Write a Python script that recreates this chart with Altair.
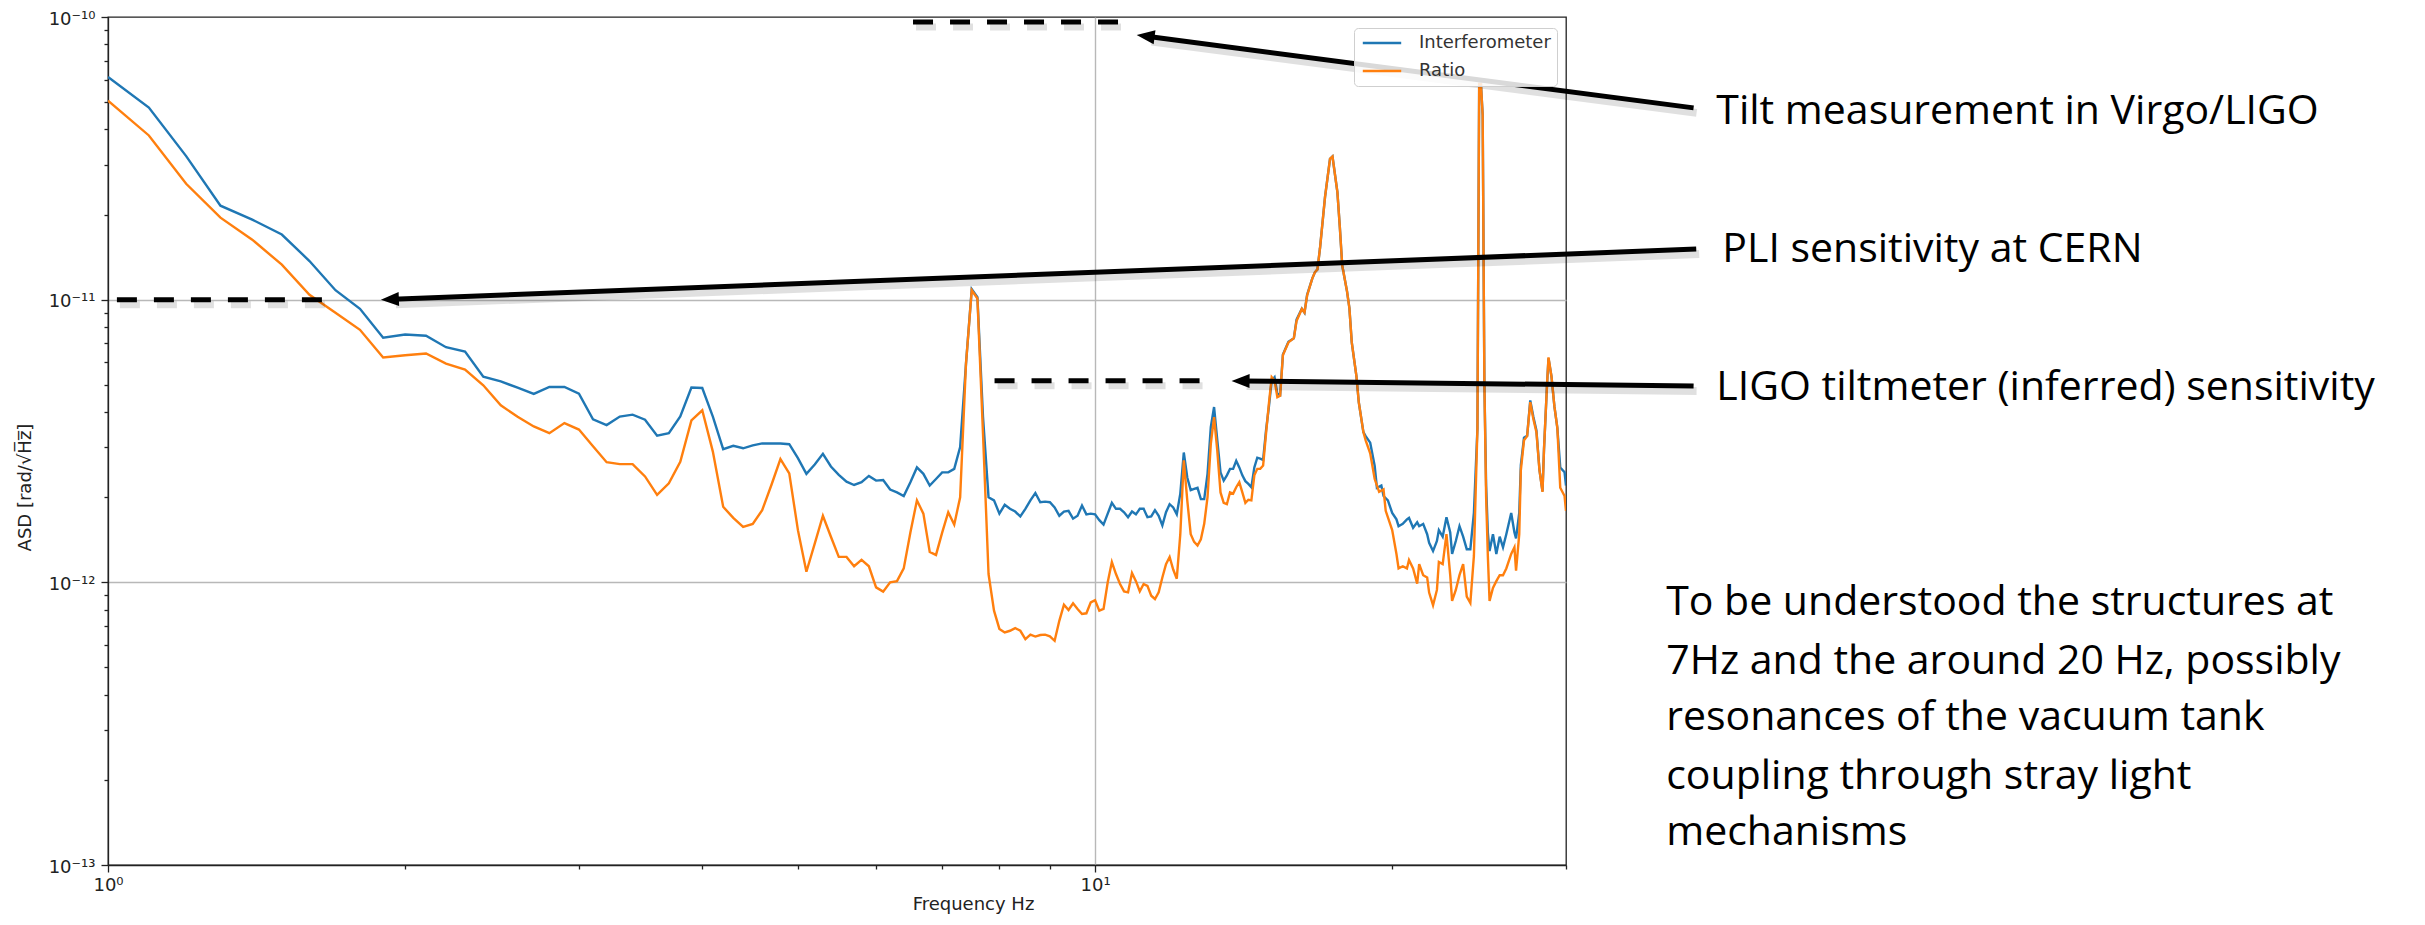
import math
import altair as alt
import pandas as pd

# ---------------- data ----------------
# Interferometer ASD (rad/sqrt(Hz)) vs frequency (Hz)
ifo_points = [
    (1.0, 6.14e-11), (1.1, 4.78e-11), (1.2, 3.22e-11), (1.3, 2.15e-11), (1.4, 1.92e-11),
    (1.5, 1.70e-11), (1.6, 1.37e-11), (1.7, 1.08e-11), (1.8, 9.28e-12), (1.9, 7.33e-12),
    (2.0, 7.53e-12), (2.1, 7.45e-12), (2.2, 6.79e-12), (2.3, 6.55e-12), (2.4, 5.34e-12),
    (2.5, 5.14e-12), (2.6, 4.88e-12), (2.7, 4.64e-12), (2.8, 4.91e-12), (2.9, 4.91e-12),
    (3.0, 4.65e-12), (3.1, 3.77e-12), (3.2, 3.60e-12), (3.3, 3.86e-12), (3.4, 3.92e-12),
    (3.5, 3.76e-12), (3.6, 3.30e-12), (3.7, 3.37e-12), (3.8, 3.86e-12), (3.9, 4.89e-12),
    (4.0, 4.87e-12), (4.1, 3.86e-12), (4.2, 2.96e-12), (4.3, 3.04e-12), (4.4, 2.98e-12),
    (4.5, 3.05e-12), (4.6, 3.10e-12), (4.7, 3.10e-12), (4.8, 3.10e-12), (4.9, 3.08e-12),
    (5.0, 2.75e-12), (5.1, 2.42e-12), (5.2, 2.61e-12), (5.3, 2.85e-12), (5.4, 2.57e-12),
    (5.5, 2.40e-12), (5.6, 2.27e-12), (5.7, 2.21e-12), (5.8, 2.26e-12), (5.9, 2.38e-12),
    (6.0, 2.29e-12), (6.1, 2.30e-12), (6.2, 2.13e-12), (6.3, 2.08e-12), (6.4, 2.02e-12),
    (6.5, 2.26e-12), (6.6, 2.55e-12), (6.7, 2.42e-12), (6.8, 2.20e-12), (6.9, 2.32e-12),
    (7.0, 2.45e-12), (7.1, 2.45e-12), (7.2, 2.52e-12), (7.3, 3.01e-12), (7.4, 5.93e-12),
    (7.5, 1.09e-11), (7.6, 1.02e-11), (7.7, 3.84e-12), (7.8, 2.00e-12), (7.9, 1.95e-12),
    (8.0, 1.75e-12), (8.1, 1.88e-12), (8.2, 1.82e-12), (8.3, 1.78e-12), (8.4, 1.71e-12),
    (8.5, 1.82e-12), (8.6, 1.95e-12), (8.7, 2.07e-12), (8.8, 1.92e-12), (8.9, 1.93e-12),
    (9.0, 1.92e-12), (9.1, 1.84e-12), (9.2, 1.72e-12), (9.3, 1.78e-12), (9.4, 1.79e-12),
    (9.5, 1.68e-12), (9.6, 1.72e-12), (9.7, 1.87e-12), (9.8, 1.74e-12), (9.9, 1.75e-12),
    (10.0, 1.74e-12), (10.1, 1.66e-12), (10.2, 1.60e-12), (10.3, 1.75e-12), (10.4, 1.91e-12),
    (10.5, 1.82e-12), (10.6, 1.82e-12), (10.7, 1.77e-12), (10.8, 1.70e-12), (10.9, 1.78e-12),
    (11.0, 1.74e-12), (11.1, 1.82e-12), (11.2, 1.82e-12), (11.3, 1.70e-12), (11.4, 1.71e-12),
    (11.5, 1.80e-12), (11.6, 1.72e-12), (11.7, 1.59e-12), (11.8, 1.77e-12), (11.9, 1.89e-12),
    (12.0, 1.84e-12), (12.1, 1.74e-12), (12.2, 2.06e-12), (12.3, 2.88e-12), (12.4, 2.35e-12),
    (12.5, 2.12e-12), (12.6, 2.14e-12), (12.7, 2.16e-12), (12.8, 1.97e-12), (12.9, 1.97e-12),
    (13.0, 2.42e-12), (13.1, 3.54e-12), (13.2, 4.17e-12), (13.3, 3.18e-12), (13.4, 2.45e-12),
    (13.5, 2.29e-12), (13.6, 2.39e-12), (13.7, 2.52e-12), (13.8, 2.52e-12), (13.9, 2.69e-12),
    (14.0, 2.55e-12), (14.1, 2.39e-12), (14.2, 2.28e-12), (14.3, 2.23e-12), (14.4, 2.17e-12),
    (14.5, 2.55e-12), (14.6, 2.76e-12), (14.7, 2.74e-12), (14.8, 2.71e-12), (14.9, 3.44e-12),
    (15.0, 4.17e-12), (15.1, 5.18e-12), (15.2, 5.32e-12), (15.3, 4.65e-12), (15.4, 4.60e-12),
    (15.5, 6.40e-12), (15.7, 7.10e-12), (15.9, 7.30e-12), (16.0, 8.50e-12), (16.2, 9.30e-12),
    (16.3, 9.00e-12), (16.4, 1.04e-11), (16.6, 1.19e-11), (16.7, 1.25e-11), (16.8, 1.28e-11),
    (16.9, 1.52e-11), (17.1, 2.31e-11), (17.3, 3.15e-11), (17.4, 3.21e-11), (17.6, 2.40e-11),
    (17.7, 1.81e-11), (17.8, 1.32e-11), (18.0, 1.07e-11), (18.1, 9.33e-12), (18.2, 7.06e-12),
    (18.4, 5.35e-12), (18.5, 4.34e-12), (18.7, 3.40e-12), (18.8, 3.29e-12), (19.0, 3.12e-12),
    (19.2, 2.58e-12), (19.3, 2.16e-12), (19.5, 2.20e-12), (19.6, 2.02e-12), (19.8, 1.95e-12),
    (20.0, 1.76e-12), (20.2, 1.67e-12), (20.3, 1.58e-12), (20.5, 1.61e-12), (20.7, 1.67e-12),
    (20.8, 1.69e-12), (21.0, 1.56e-12), (21.2, 1.63e-12), (21.3, 1.58e-12), (21.5, 1.61e-12),
    (21.7, 1.48e-12), (21.8, 1.38e-12), (22.0, 1.29e-12), (22.2, 1.40e-12), (22.3, 1.53e-12),
    (22.5, 1.45e-12), (22.7, 1.70e-12), (22.9, 1.50e-12), (23.0, 1.26e-12), (23.2, 1.40e-12),
    (23.4, 1.58e-12), (23.6, 1.45e-12), (23.8, 1.31e-12), (24.0, 1.31e-12), (24.2, 1.76e-12),
    (24.4, 3.50e-12), (24.5, 5.80e-11), (24.6, 5.80e-11), (24.7, 4.50e-11), (24.8, 5.00e-12),
    (24.9, 2.20e-12), (25.0, 1.50e-12), (25.1, 1.29e-12), (25.3, 1.48e-12), (25.5, 1.26e-12),
    (25.7, 1.45e-12), (25.9, 1.33e-12), (26.1, 1.48e-12), (26.4, 1.76e-12), (26.6, 1.50e-12),
    (26.7, 1.43e-12), (26.9, 1.76e-12), (27.0, 2.60e-12), (27.2, 3.25e-12), (27.4, 3.30e-12),
    (27.6, 4.40e-12), (27.8, 3.85e-12), (28.0, 3.45e-12), (28.2, 2.50e-12), (28.4, 2.10e-12),
    (28.5, 2.96e-12), (28.7, 4.99e-12), (28.8, 6.20e-12), (29.0, 5.35e-12), (29.2, 4.19e-12),
    (29.4, 3.52e-12), (29.6, 2.55e-12), (29.9, 2.45e-12), (30.0, 2.20e-12),
]

# Ratio ASD (rad/sqrt(Hz)) vs frequency (Hz)
ratio_points = [
    (1.0, 5.06e-11), (1.1, 3.81e-11), (1.2, 2.57e-11), (1.3, 1.95e-11), (1.4, 1.63e-11),
    (1.5, 1.33e-11), (1.6, 1.04e-11), (1.7, 8.99e-12), (1.8, 7.82e-12), (1.9, 6.24e-12),
    (2.0, 6.36e-12), (2.1, 6.45e-12), (2.2, 5.94e-12), (2.3, 5.66e-12), (2.4, 4.98e-12),
    (2.5, 4.23e-12), (2.6, 3.85e-12), (2.7, 3.56e-12), (2.8, 3.37e-12), (2.9, 3.66e-12),
    (3.0, 3.47e-12), (3.1, 3.03e-12), (3.2, 2.66e-12), (3.3, 2.62e-12), (3.4, 2.62e-12),
    (3.5, 2.37e-12), (3.6, 2.04e-12), (3.7, 2.24e-12), (3.8, 2.67e-12), (3.9, 3.74e-12),
    (4.0, 4.06e-12), (4.1, 2.90e-12), (4.2, 1.85e-12), (4.3, 1.69e-12), (4.4, 1.57e-12),
    (4.5, 1.61e-12), (4.6, 1.80e-12), (4.7, 2.21e-12), (4.8, 2.73e-12), (4.9, 2.43e-12),
    (5.0, 1.53e-12), (5.1, 1.09e-12), (5.2, 1.37e-12), (5.3, 1.72e-12), (5.4, 1.45e-12),
    (5.5, 1.23e-12), (5.6, 1.23e-12), (5.7, 1.14e-12), (5.8, 1.20e-12), (5.9, 1.14e-12),
    (6.0, 9.60e-13), (6.1, 9.27e-13), (6.2, 1.00e-12), (6.3, 1.01e-12), (6.4, 1.12e-12),
    (6.5, 1.50e-12), (6.6, 1.95e-12), (6.7, 1.75e-12), (6.8, 1.28e-12), (6.9, 1.25e-12),
    (7.0, 1.50e-12), (7.1, 1.77e-12), (7.2, 1.60e-12), (7.3, 2.00e-12), (7.4, 5.93e-12),
    (7.5, 1.08e-11), (7.6, 1.01e-11), (7.7, 3.35e-12), (7.8, 1.07e-12), (7.9, 7.94e-13),
    (8.0, 6.84e-13), (8.1, 6.65e-13), (8.2, 6.74e-13), (8.3, 6.89e-13), (8.4, 6.74e-13),
    (8.5, 6.30e-13), (8.6, 6.53e-13), (8.7, 6.43e-13), (8.8, 6.51e-13), (8.9, 6.53e-13),
    (9.0, 6.44e-13), (9.1, 6.21e-13), (9.2, 7.31e-13), (9.3, 8.34e-13), (9.4, 7.98e-13),
    (9.5, 8.43e-13), (9.6, 8.05e-13), (9.7, 7.73e-13), (9.8, 7.77e-13), (9.9, 8.49e-13),
    (10.0, 8.65e-13), (10.1, 7.94e-13), (10.2, 8.05e-13), (10.3, 1.00e-12), (10.4, 1.18e-12),
    (10.5, 1.07e-12), (10.6, 9.86e-13), (10.7, 9.29e-13), (10.8, 9.22e-13), (10.9, 1.08e-12),
    (11.0, 1.01e-12), (11.1, 9.29e-13), (11.2, 9.86e-13), (11.3, 9.72e-13), (11.4, 8.97e-13),
    (11.5, 8.73e-13), (11.6, 9.22e-13), (11.7, 1.04e-12), (11.8, 1.16e-12), (11.9, 1.23e-12),
    (12.0, 1.11e-12), (12.1, 1.03e-12), (12.2, 1.48e-12), (12.3, 2.70e-12), (12.4, 1.95e-12),
    (12.5, 1.48e-12), (12.6, 1.39e-12), (12.7, 1.35e-12), (12.8, 1.42e-12), (12.9, 1.61e-12),
    (13.0, 2.00e-12), (13.1, 3.09e-12), (13.2, 3.84e-12), (13.3, 2.92e-12), (13.4, 2.08e-12),
    (13.5, 1.91e-12), (13.6, 1.89e-12), (13.7, 2.08e-12), (13.8, 2.06e-12), (13.9, 2.17e-12),
    (14.0, 2.26e-12), (14.1, 2.08e-12), (14.2, 1.91e-12), (14.3, 1.96e-12), (14.4, 1.95e-12),
    (14.5, 2.39e-12), (14.6, 2.52e-12), (14.7, 2.52e-12), (14.8, 2.59e-12), (14.9, 3.35e-12),
    (15.0, 4.28e-12), (15.1, 5.32e-12), (15.2, 5.18e-12), (15.3, 4.52e-12), (15.4, 4.57e-12),
    (15.5, 6.37e-12), (15.7, 7.06e-12), (15.9, 7.31e-12), (16.0, 8.40e-12), (16.2, 9.27e-12),
    (16.3, 9.01e-12), (16.4, 1.035e-11), (16.6, 1.19e-11), (16.7, 1.25e-11), (16.8, 1.28e-11),
    (16.9, 1.52e-11), (17.1, 2.31e-11), (17.3, 3.15e-11), (17.4, 3.21e-11), (17.6, 2.40e-11),
    (17.7, 1.81e-11), (17.8, 1.32e-11), (18.0, 1.07e-11), (18.1, 9.33e-12), (18.2, 7.06e-12),
    (18.4, 5.35e-12), (18.5, 4.34e-12), (18.7, 3.40e-12), (18.8, 3.18e-12), (19.0, 2.86e-12),
    (19.2, 2.32e-12), (19.4, 2.09e-12), (19.6, 2.13e-12), (19.7, 1.79e-12), (20.0, 1.53e-12),
    (20.2, 1.26e-12), (20.3, 1.12e-12), (20.5, 1.14e-12), (20.7, 1.12e-12), (20.8, 1.20e-12),
    (21.0, 1.12e-12), (21.2, 9.90e-13), (21.3, 1.16e-12), (21.5, 1.06e-12), (21.7, 1.04e-12),
    (21.8, 9.20e-13), (22.0, 8.30e-13), (22.2, 9.40e-13), (22.3, 1.18e-12), (22.5, 1.16e-12),
    (22.7, 1.48e-12), (22.9, 1.06e-12), (23.0, 8.60e-13), (23.2, 9.40e-13), (23.4, 1.06e-12),
    (23.6, 1.16e-12), (23.8, 8.90e-13), (24.0, 8.45e-13), (24.2, 1.24e-12), (24.4, 3.50e-12),
    (24.5, 5.80e-11), (24.6, 5.80e-11), (24.7, 4.50e-11), (24.8, 5.00e-12), (24.9, 2.00e-12),
    (25.0, 1.24e-12), (25.1, 8.60e-13), (25.3, 9.55e-13), (25.5, 1.01e-12), (25.7, 1.06e-12),
    (25.9, 1.06e-12), (26.1, 1.12e-12), (26.4, 1.26e-12), (26.6, 1.33e-12), (26.7, 1.10e-12),
    (26.9, 1.48e-12), (27.0, 2.49e-12), (27.2, 3.18e-12), (27.4, 3.29e-12), (27.6, 4.34e-12),
    (27.8, 3.78e-12), (28.0, 3.40e-12), (28.2, 2.49e-12), (28.4, 2.09e-12), (28.5, 2.96e-12),
    (28.7, 4.99e-12), (28.8, 6.25e-12), (29.0, 5.35e-12), (29.2, 4.19e-12), (29.4, 3.52e-12),
    (29.6, 2.16e-12), (29.9, 2.02e-12), (30.0, 1.79e-12),
]

series_names = ["Interferometer", "Ratio"]
series_colors = ["#1f77b4", "#ff7f0e"]

# dashed reference levels: start freq, end freq, ASD level
dash_f_start = [6.54, 1.021, 7.91]
dash_f_end = [10.59, 1.659, 12.85]
dash_level = [9.6e-11, 1.0e-11, 5.17e-12]

# arrows: tip (on the plot) and tail (next to the label), in Hz / ASD units
arrow_labels = ["Tilt measurement in Virgo/LIGO", "PLI sensitivity at CERN",
                "LIGO tiltmeter (inferred) sensitivity"]
arrow_tip_f = [11.02, 1.89, 13.75]
arrow_tip_a = [8.64e-11, 1.0e-11, 5.16e-12]
arrow_tail_f = [40.4, 40.65, 40.4]
arrow_tail_a = [4.77e-11, 1.51e-11, 4.95e-12]
label_f = [42.6, 43.2, 42.6]
label_a = [4.61e-11, 1.50e-11, 4.87e-12]

note_lines = ["To be understood the structures at",
              "7Hz and the around 20 Hz, possibly",
              "resonances of the vacuum tank",
              "coupling through stray light",
              "mechanisms"]
note_f = [37.9, 37.9, 37.9, 37.9, 37.9]
note_a = [8.45e-13, 5.23e-13, 3.31e-13, 2.05e-13, 1.30e-13]

# ---------------- layout ----------------
W, H = 1458, 848
X_DOM = [1.0, 30.0]
Y_DOM = [1e-13, 1e-10]
PXDX = W / math.log10(X_DOM[1] / X_DOM[0])
PXDY = H / math.log10(Y_DOM[1] / Y_DOM[0])
SHAFT_BACK = 12

xs = alt.Scale(type="log", domain=X_DOM, nice=False)
ys = alt.Scale(type="log", domain=Y_DOM, nice=False)

df_ifo = pd.DataFrame(ifo_points, columns=["f", "asd"])
df_ifo["series"] = series_names[0]
df_ratio = pd.DataFrame(ratio_points, columns=["f", "asd"])
df_ratio["series"] = series_names[1]

x_ticks = [1, 2, 3, 4, 5, 6, 7, 8, 9, 10, 20, 30]
y_ticks = [m * 10.0 ** e for e in (-13, -12, -11) for m in range(1, 10)] + [1e-10]

LG = "(log(datum.value)/LN10)"
y_major = f"abs({LG} - round({LG})) < 0.001"
y_label = (f"{y_major} ? '10' + (round({LG}) == -13 ? '⁻¹³' : round({LG}) == -12 ? '⁻¹²' : "
           f"round({LG}) == -11 ? '⁻¹¹' : '⁻¹⁰') : ''")
y_grid = f"abs({LG} + 11) < 0.001 || abs({LG} + 12) < 0.001"
x_major = "datum.value == 1 || datum.value == 10"

X_TITLE = "Frequency Hz"
Y_TITLE = "ASD [rad/\u221aH\u0305z\u0305]"

x_axis = alt.Axis(
    values=x_ticks,
    labelExpr="datum.value == 1 ? '10⁰' : datum.value == 10 ? '10¹' : ''",
    tickSize=7,
    tickDash={"condition": {"test": x_major, "value": [7, 1]}, "value": [4, 40]},
    grid=True, gridColor="#b8b8b8", gridWidth=1.4,
    gridOpacity={"condition": {"test": "datum.value == 10", "value": 1}, "value": 0},
    labelFlush=False, labelOverlap=False, labelPadding=4,
    titleX=865, titleY=30, titleBaseline="top", titleAlign="center",
)
y_axis = alt.Axis(
    values=y_ticks,
    labelExpr=y_label,
    tickSize=7,
    tickDash={"condition": {"test": y_major, "value": [7, 1]}, "value": [4, 40]},
    grid=True, gridColor="#b8b8b8", gridWidth=1.4,
    gridOpacity={"condition": {"test": y_grid, "value": 1}, "value": 0},
    labelOverlap=False, labelPadding=6, labelOffset=2,
    titleX=-83, titleY=470, titleAlign="center", titleBaseline="middle",
)


def X(field):
    return alt.X(field, scale=xs, axis=x_axis, title=X_TITLE)


def Y(field):
    return alt.Y(field, scale=ys, axis=y_axis, title=Y_TITLE)


color = alt.Color(
    "series:N",
    scale=alt.Scale(domain=series_names, range=series_colors),
    legend=alt.Legend(
        title=None, orient="none", legendX=1246, legendY=11,
        symbolType="M-3.2,0H3.2", symbolSize=144, symbolStrokeWidth=2.4,
        symbolOffset=13, labelOffset=28,
        labelFont="DejaVu Sans", labelFontSize=18, labelColor="#333",
        fillColor="rgba(255,255,255,0.85)", strokeColor="#cfcfcf",
        cornerRadius=4, padding=6, rowPadding=10,
    ),
)

line_ifo = alt.Chart(df_ifo).mark_line(strokeWidth=2.4, clip=True).encode(
    x=X("f:Q"), y=Y("asd:Q"), color=color, order="f:Q")
line_ratio = alt.Chart(df_ratio).mark_line(strokeWidth=2.4, clip=True).encode(
    x=X("f:Q"), y=Y("asd:Q"), color=color, order="f:Q")

# dashed levels
df_dash = pd.DataFrame({"f0": dash_f_start, "f1": dash_f_end, "lvl": dash_level})
dash_enc = dict(x=X("f0:Q"), x2="f1:Q", y=Y("lvl:Q"))
dash_shadow = alt.Chart(df_dash).mark_rule(
    color="#000", opacity=0.12, strokeWidth=7, strokeDash=[20, 17], strokeCap="butt",
    xOffset=3, x2Offset=3, yOffset=5, y2Offset=5).encode(**dash_enc)
dash_line = alt.Chart(df_dash).mark_rule(
    color="#000", strokeWidth=5, strokeDash=[20, 17], strokeCap="butt").encode(**dash_enc)

# arrows
rows = []
for lab, tf, ta, sf, sa in zip(arrow_labels, arrow_tip_f, arrow_tip_a, arrow_tail_f, arrow_tail_a):
    dxp = (math.log10(sf) - math.log10(tf)) * PXDX
    dyp = -(math.log10(sa) - math.log10(ta)) * PXDY
    L = math.hypot(dxp, dyp)
    ux, uy = dxp / L, dyp / L
    rows.append({
        "label": lab, "tip_f": tf, "tip_a": ta, "tail_f": sf, "tail_a": sa,
        "s_f": 10 ** (math.log10(tf) + SHAFT_BACK * ux / PXDX),
        "s_a": 10 ** (math.log10(ta) - SHAFT_BACK * uy / PXDY),
        "ang": math.degrees(math.atan2(dyp, dxp)) % 360,
    })
df_arrow = pd.DataFrame(rows)
shaft_enc = dict(x=X("s_f:Q"), x2="tail_f:Q", y=Y("s_a:Q"), y2="tail_a:Q")
shaft_shadow = alt.Chart(df_arrow).mark_rule(
    color="#000", opacity=0.12, strokeWidth=8,
    xOffset=3, x2Offset=3, yOffset=5, y2Offset=5).encode(**shaft_enc)
shaft = alt.Chart(df_arrow).mark_rule(color="#000", strokeWidth=5).encode(**shaft_enc)
heads = alt.Chart(df_arrow).mark_point(
    shape="M0,0L2,-0.78L2,0.78Z", filled=True, size=324, color="#000", opacity=1,
    strokeWidth=0).encode(
    x=X("tip_f:Q"), y=Y("tip_a:Q"), angle=alt.Angle("ang:Q", scale=None))

df_lab = pd.DataFrame({"f": label_f, "a": label_a, "t": arrow_labels})
labels = alt.Chart(df_lab).mark_text(
    font="Open Sans", fontSize=41, align="left", baseline="middle", color="#000").encode(
    x=X("f:Q"), y=Y("a:Q"), text="t:N")

df_note = pd.DataFrame({"f": note_f, "a": note_a, "t": note_lines})
notes = alt.Chart(df_note).mark_text(
    font="Open Sans", fontSize=41, align="left", baseline="middle", color="#000").encode(
    x=X("f:Q"), y=Y("a:Q"), text="t:N")

chart = alt.layer(
    line_ifo, line_ratio, dash_shadow, dash_line, shaft_shadow, shaft, heads, labels, notes
).properties(
    width=W, height=H,
    autosize=alt.AutoSizeParams(type="none"),
    padding={"left": 100, "top": 9, "right": 851, "bottom": 50},
    background="white",
).configure_view(
    stroke="#222", strokeWidth=1.3
).configure_axis(
    domainColor="#222", domainWidth=1.3, tickColor="#222", tickWidth=1.3,
    labelFont="DejaVu Sans", labelFontSize=18, labelColor="#222",
    titleFont="DejaVu Sans", titleFontSize=18, titleFontWeight="normal", titleColor="#222",
)

chart.save("out.html", embed_options={"renderer": "svg", "actions": False})
